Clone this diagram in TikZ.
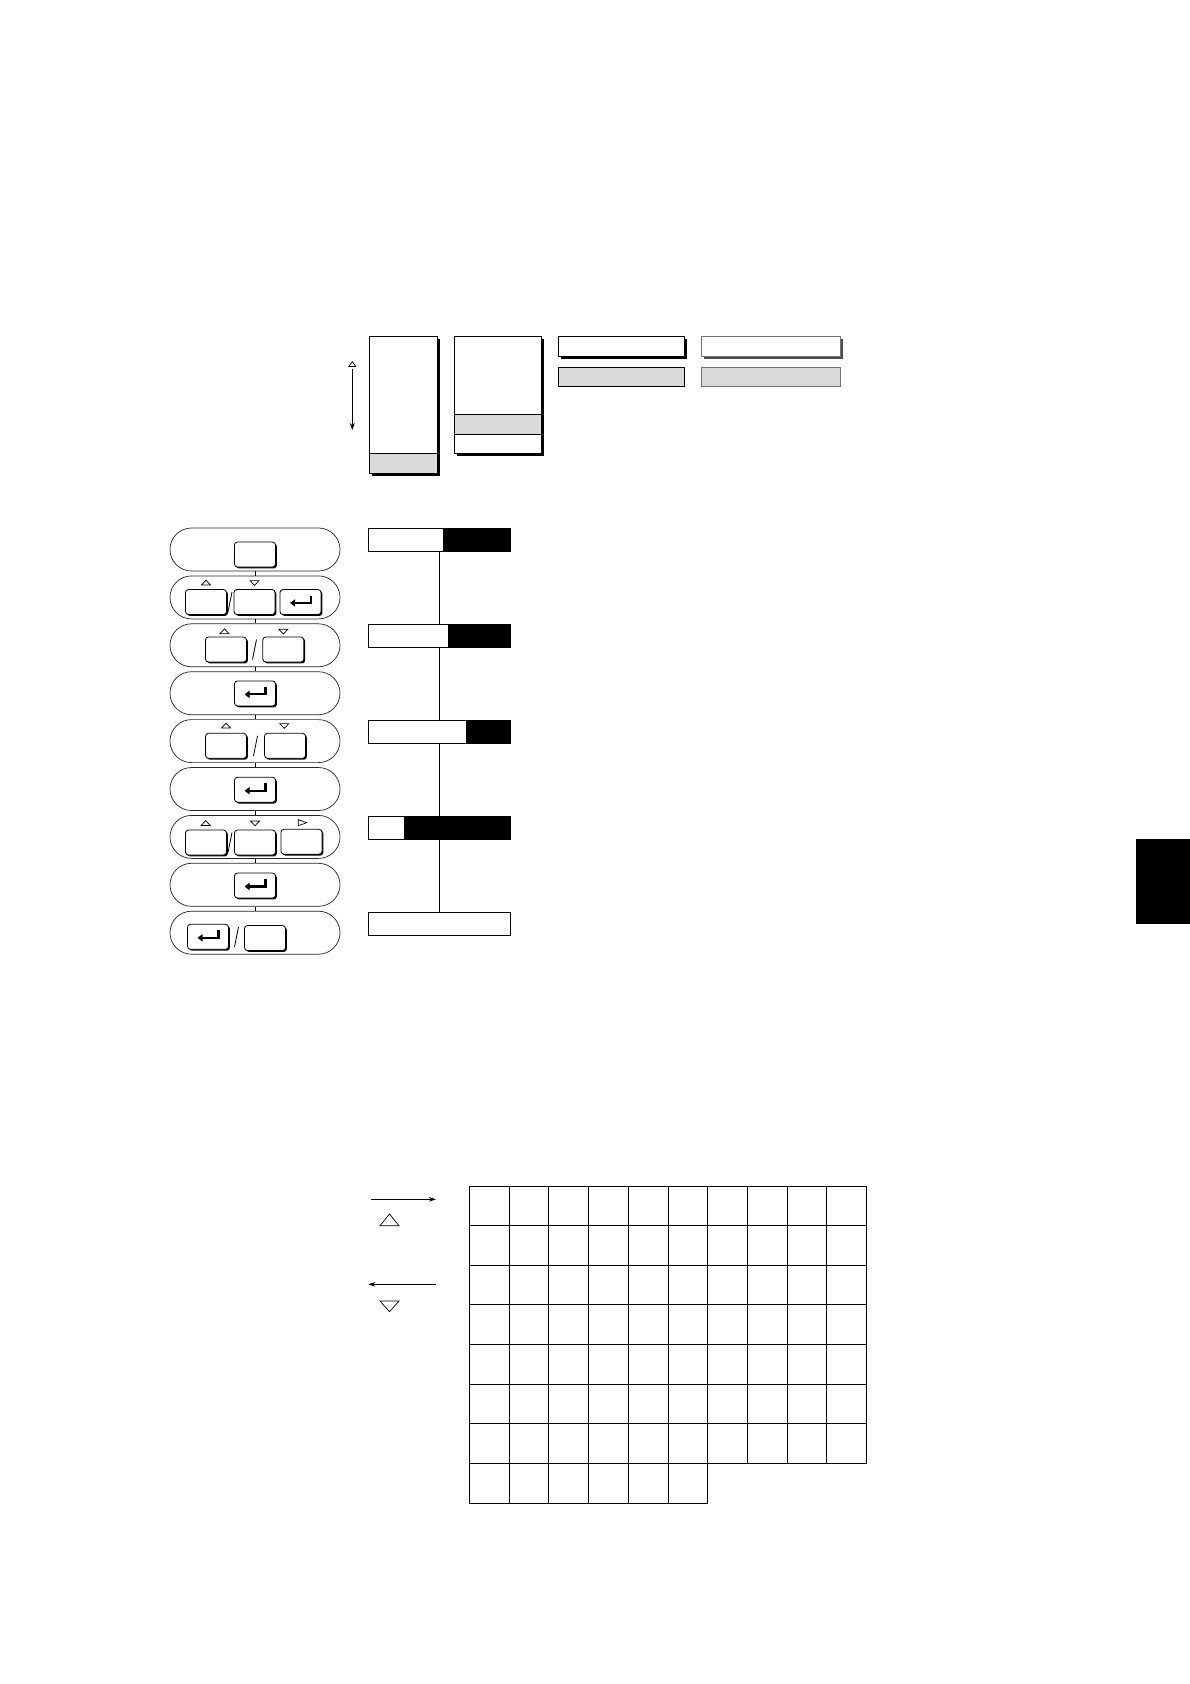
\documentclass[tikz,border=0pt]{standalone}
\usetikzlibrary{shapes.misc,shadows,arrows.meta}
\definecolor{lgray}{HTML}{D9D9D9}
\begin{document}
\begin{tikzpicture}[x=1pt,y=-1pt,
  pill/.style={draw=black!85, rounded rectangle, minimum width=170pt, minimum height=43pt, line width=0.7pt, inner sep=0pt},
  keybox/.style={draw, fill=white, rounded corners=3pt, minimum width=41pt, minimum height=25pt, line width=0.8pt, inner sep=0pt,
     drop shadow={shadow xshift=1.4pt, shadow yshift=-1.4pt, fill=black, opacity=1}},
  dispbar/.style={draw, fill=white, minimum width=142.4pt, minimum height=23pt, line width=1pt, inner sep=0pt},
  bigbox/.style={draw, fill=white, line width=1pt, inner sep=0pt,
     drop shadow={shadow xshift=3pt, shadow yshift=-3pt, fill=black, opacity=1}},
  upt/.pic={\draw[line width=0.7pt] (-4.5,2.2) -- (0,-2.6) -- (4.5,2.2) -- cycle;},
  downt/.pic={\draw[line width=0.7pt] (-4.5,-2.2) -- (0,2.6) -- (4.5,-2.2) -- cycle;},
  rightt/.pic={\draw[line width=0.7pt] (-4.2,-3) -- (4.2,0) -- (-4.2,3) -- cycle;},
  slashmark/.pic={\draw[line width=0.8pt] (2,-10) -- (-2,10);},
  enterglyph/.pic={\draw[line width=2.1pt, -{Triangle[length=5pt,width=7pt]}] (10.5,-6.5) -- (10.5,1) -- (-10.5,1);}
]
\fill[white] (0,0) rectangle (1190,1684);
\useasboundingbox (0,0) rectangle (1190,1684);

% ---------- top illustration ----------
\draw[line width=0.7pt] (348.8,366.5) -- (352.3,361.7) -- (355.8,366.5) -- cycle;
\draw[line width=0.9pt, -{Stealth[length=7pt,width=5pt]}] (352.3,369) -- (352.3,430);

\node[bigbox, minimum width=68pt, minimum height=137.3pt] (boxa) at (403.3,404.65) {};
\filldraw[fill=lgray, line width=1pt] (369.3,453.3) rectangle (437.3,473.3);
\node[bigbox, minimum width=87pt, minimum height=117.3pt] (boxb) at (497.8,394.65) {};
\filldraw[fill=lgray, line width=1pt] (454.3,414.3) rectangle (541.3,434.3);

\node[bigbox, minimum width=126pt, minimum height=20pt] (bara) at (621.3,346) {};
\node[draw=black!55, fill=white, line width=1pt, inner sep=0pt, minimum width=139pt, minimum height=20pt,
      drop shadow={shadow xshift=3pt, shadow yshift=-3pt, fill=black!70, opacity=1}] (barb) at (770.5,346) {};
\node[draw, fill=lgray, line width=1pt, inner sep=0pt, minimum width=126pt, minimum height=19.4pt] (barc) at (621.3,377) {};
\node[draw=black!55, fill=lgray, line width=1pt, inner sep=0pt, minimum width=139pt, minimum height=19.4pt] (bard) at (770.5,377) {};

% ---------- key sequence ----------
\foreach \i/\y in {1/549.5,2/597.4,3/645.3,4/693.2,5/741.1,6/789,7/836.9,8/884.8,9/932.7}
  \node[pill] (p\i) at (255,\y) {};
\foreach \a/\b in {1/2,2/3,3/4,4/5,5/6,6/7,7/8,8/9}
  \draw[line width=0.7pt] (p\a.south) -- (p\b.north);

% pill 1
\node[keybox] (k1) at (255,554.5) {};
% pill 2
\node[keybox] (k2a) at (206,602) {};
\node[keybox] (k2b) at (254.5,602) {};
\node[keybox] (k2c) at (300.5,602) {};
\pic at (206,582.8) {upt};
\pic at (254.5,582.8) {downt};
\pic at (230,602) {slashmark};
\pic at (300.5,602) {enterglyph};
% pill 3
\node[keybox] (k3a) at (226,649.5) {};
\node[keybox] (k3b) at (283.3,649.5) {};
\pic at (224.5,631.5) {upt};
\pic at (283.3,631.5) {downt};
\pic at (254.5,649.5) {slashmark};
% pill 4
\node[keybox] (k4) at (255,693.4) {};
\pic at (255,693.4) {enterglyph};
% pill 5
\node[keybox] (k5a) at (226,745.8) {};
\node[keybox] (k5b) at (285,745.8) {};
\pic at (226,725.8) {upt};
\pic at (284.3,725.8) {downt};
\pic at (255.5,745.8) {slashmark};
% pill 6
\node[keybox] (k6) at (255,789.7) {};
\pic at (255,789.7) {enterglyph};
% pill 7
\node[keybox] (k7a) at (206,842.5) {};
\node[keybox] (k7b) at (255,842.5) {};
\node[keybox] (k7c) at (301.5,841.7) {};
\pic at (205.7,823.2) {upt};
\pic at (255,823.2) {downt};
\pic at (302.5,822.7) {rightt};
\pic at (230,842.5) {slashmark};
% pill 8
\node[keybox] (k8) at (255,885.5) {};
\pic at (255,885.5) {enterglyph};
% pill 9
\node[keybox] (k9a) at (208,936.8) {};
\node[keybox] (k9b) at (265,938) {};
\pic at (208,936.8) {enterglyph};
\pic at (236.5,937) {slashmark};

% ---------- display bars ----------
\node[dispbar] (d1) at (439.5,540) {};
\node[dispbar] (d2) at (439.5,635.8) {};
\node[dispbar] (d3) at (439.5,731.7) {};
\node[dispbar] (d4) at (439.5,827.6) {};
\node[dispbar] (d5) at (439.5,923.6) {};
\fill (443.3,528.5) rectangle (d1.south east);
\fill (448.3,624.3) rectangle (d2.south east);
\fill (466,720.2) rectangle (d3.south east);
\fill (404.3,816.1) rectangle (d4.south east);
\foreach \a/\b in {1/2,2/3,3/4,4/5}
  \draw[line width=1pt] (d\a.south) -- (d\b.north);

% ---------- side tab ----------
\fill (1136,839) rectangle (1190,924);

% ---------- bottom: arrows and grid ----------
\draw[line width=0.8pt, -{Stealth[length=7pt,width=4.5pt]}] (371,1199.3) -- (436,1199.3);
\draw[line width=0.7pt] (380,1225.7) -- (389.5,1214) -- (399,1225.7) -- cycle;
\draw[line width=0.8pt, -{Stealth[length=7pt,width=4.5pt]}] (436,1284.3) -- (368.3,1284.3);
\draw[line width=0.7pt] (380,1301) -- (389.5,1311.7) -- (399,1301) -- cycle;

\begin{scope}[line width=1pt]
\foreach \j in {0,...,7}
  \draw (469.3,1186+\j*39.66) -- (866.7,1186+\j*39.66);
\draw (469.3,1503.3) -- (707.7,1503.3);
\foreach \i in {0,...,6}
  \draw (469.3+\i*39.74,1186) -- (469.3+\i*39.74,1503.3);
\foreach \i in {7,...,10}
  \draw (469.3+\i*39.74,1186) -- (469.3+\i*39.74,1463.6);
\end{scope}
\end{tikzpicture}
\end{document}
